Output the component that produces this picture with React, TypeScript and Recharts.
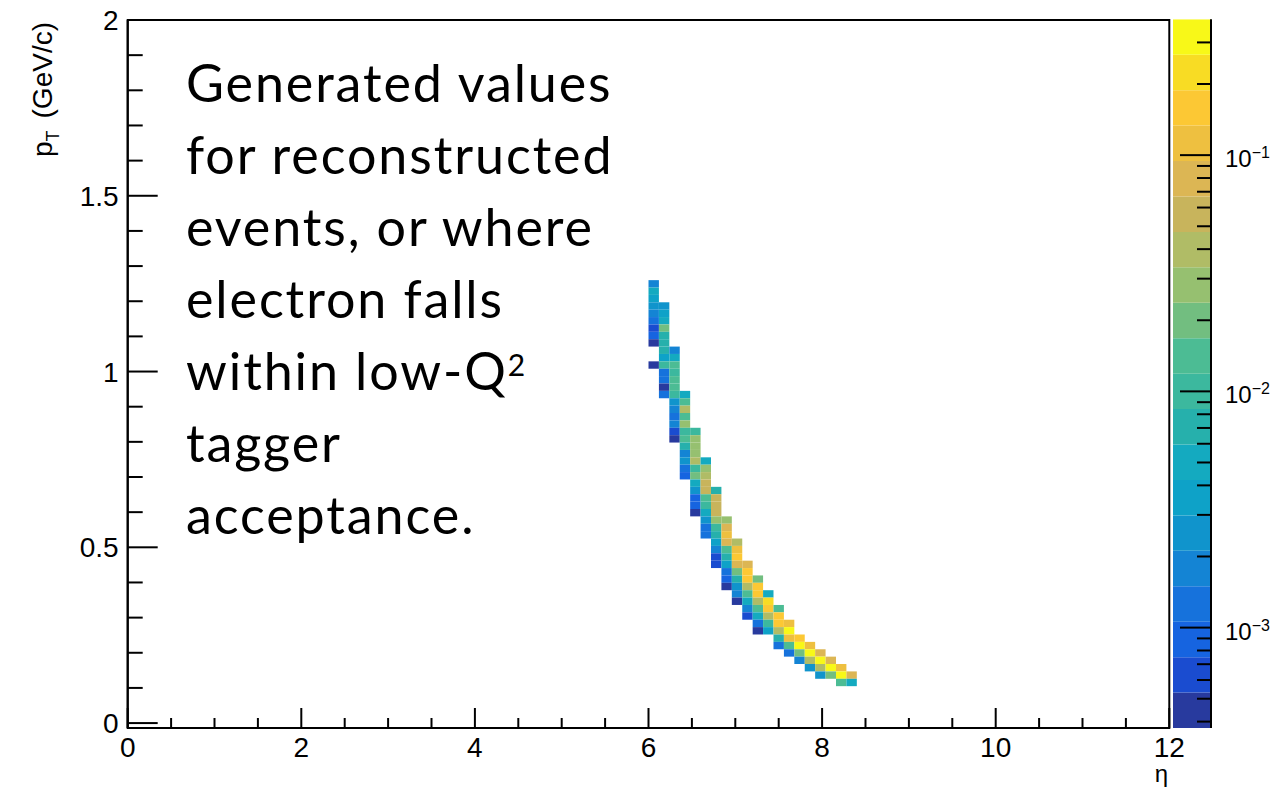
import { ScatterChart, Scatter, XAxis, YAxis, ReferenceArea, BarChart, Bar } from 'recharts'

// histogram binning
const ETA_BIN = 0.12
const PT_BIN = 0.021

// one entry per eta column: low edge, highest filled pT bin, bin contents from top to bottom
const ETA_LOW = [6.0, 6.12, 6.24, 6.36, 6.48, 6.6, 6.72, 6.84, 6.96, 7.08, 7.2, 7.32, 7.44, 7.56, 7.68, 7.8, 7.92, 8.04, 8.16, 8.28]
const PT_TOP_BIN = [59, 56, 50, 44, 39, 35, 31, 27, 24, 21, 19, 17, 15, 13, 11, 10, 9, 8, 7, 6]
const COL_VALUES: (number | null)[][] = [
  [0.0018, 0.0051, 0.0036, 0.0026, 0.0018, 0.0013, 0.00066, 0.00092, 0.00047, null, null, 0.00047],
  [0.0026, 0.0036, 0.0051, 0.02, 0.0071, 0.0071, 0.0071, 0.0036, 0.01, 0.0013, 0.0013, 0.00047, 0.0013],
  [0.0018, 0.0051, 0.014, 0.01, 0.014, 0.014, 0.01, 0.0026, 0.0018, 0.0013, 0.0018, 0.00066, 0.00047],
  [0.0051, 0.014, 0.039, 0.014, 0.028, 0.01, 0.014, 0.0071, 0.0018, 0.0026, 0.0013, 0.00092],
  [0.01, 0.028, 0.028, 0.028, 0.039, 0.01, 0.02, 0.0051, 0.0026, 0.00092, 0.00092, 0.00047],
  [0.0051, 0.028, 0.039, 0.055, 0.055, 0.014, 0.01, 0.0051, 0.0026, 0.0013, 0.0013],
  [0.0071, 0.055, 0.055, 0.055, 0.028, 0.01, 0.0071, 0.0036, 0.0018, 0.00066, 0.00066],
  [0.028, 0.077, 0.11, 0.077, 0.014, 0.0071, 0.0036, 0.0013, 0.00092, 0.00047],
  [0.039, 0.11, 0.15, 0.077, 0.02, 0.0071, 0.0026, 0.0018, 0.00047],
  [0.077, 0.15, 0.15, 0.039, 0.014, 0.0051, 0.0018, 0.00066],
  [0.02, 0.15, 0.15, 0.039, 0.014, 0.0051, 0.0013, 0.00047],
  [0.0051, 0.21, 0.15, 0.039, 0.01, 0.0036],
  [0.014, 0.15, 0.15, 0.039, 0.0071, 0.0013],
  [0.11, 0.3, 0.11, 0.014, 0.0013],
  [0.15, 0.3, 0.02, 0.0018],
  [0.11, 0.3, 0.039, 0.0026],
  [0.077, 0.3, 0.039, 0.0026],
  [0.077, 0.3, 0.02],
  [0.11, 0.3, 0.014],
  [0.077, 0.0051]
]

// z colour scale (log10), 20 contour bands bottom -> top
const Z_MIN_LOG = -3.425
const Z_MAX_LOG = -0.425
const PALETTE = [
  '#283a9e', '#1a4cd0', '#1664e0', '#1672dc', '#1484d4', '#1094cc', '#0ea2c8', '#14aac0', '#26b0ac', '#3cb89e',
  '#4cbc94', '#72be80', '#96c070', '#b0bc66', '#c8b45c', '#dcb654', '#eec040', '#fcc834', '#f8dc24', '#f8f818'
]
const Z_TICKS = [
  0.0004, 0.0005, 0.0006, 0.0007, 0.0008, 0.0009,
  0.001, 0.002, 0.003, 0.004, 0.005, 0.006, 0.007, 0.008, 0.009,
  0.01, 0.02, 0.03, 0.04, 0.05, 0.06, 0.07, 0.08, 0.09,
  0.1, 0.2, 0.3
]

const X_TICKS = [0, 0.5, 1, 1.5, 2, 2.5, 3, 3.5, 4, 4.5, 5, 5.5, 6, 6.5, 7, 7.5, 8, 8.5, 9, 9.5, 10, 10.5, 11, 11.5, 12]
const Y_TICKS = [0, 0.1, 0.2, 0.3, 0.4, 0.5, 0.6, 0.7, 0.8, 0.9, 1, 1.1, 1.2, 1.3, 1.4, 1.5, 1.6, 1.7, 1.8, 1.9, 2]
const Y_MIN = -0.014

const NOTE_LINES = ['Generated values', 'for reconstructed', 'events, or where', 'electron falls', 'within low-Q', 'tagger', 'acceptance.']

const FONT = '"Liberation Sans", Arial, sans-serif'
const Z_STEP = (Z_MAX_LOG - Z_MIN_LOG) / PALETTE.length

function colorOf(v: number) {
  let k = Math.floor((Math.log10(v) - Z_MIN_LOG) / Z_STEP + 1e-9)
  k = Math.max(0, Math.min(PALETTE.length - 1, k))
  return PALETTE[k]
}

const cells = ETA_LOW.flatMap((eta, i) =>
  COL_VALUES[i].flatMap((v, j) =>
    v == null ? [] : [{ eta, pt: (PT_TOP_BIN[i] - j) * PT_BIN, value: v }]
  )
)
const centers = cells.map((c) => ({ x: c.eta + ETA_BIN / 2, y: c.pt + PT_BIN / 2, z: c.value }))

const bandRow: Record<string, number | string> = { name: 'z' }
PALETTE.forEach((_, k) => {
  bandRow[`b${k}`] = Z_STEP
})

const XTick = (props: any) => {
  const { x, y, payload } = props
  const v = payload.value
  const major = Math.abs(v / 2 - Math.round(v / 2)) < 1e-6
  return (
    <g>
      <line x1={x} x2={x} y1={y} y2={y - (major ? 20 : 10)} stroke="#000" strokeWidth={2} />
      {major && (
        <text x={x} y={y + 29} textAnchor="middle" fontSize={28} fontFamily={FONT} fill="#000">
          {v}
        </text>
      )}
    </g>
  )
}

const YTick = (props: any) => {
  const { x, y, payload } = props
  const v = payload.value
  const major = Math.abs(v * 2 - Math.round(v * 2)) < 1e-6
  return (
    <g>
      <line x1={x} x2={x + (major ? 30 : 15)} y1={y} y2={y} stroke="#000" strokeWidth={2} />
      {major && (
        <text x={x - 9} y={y + 10} textAnchor="end" fontSize={28} fontFamily={FONT} fill="#000">
          {v}
        </text>
      )}
    </g>
  )
}

const ZTick = (props: any) => {
  const { x, y, payload } = props
  const lg = payload.value + Z_MIN_LOG
  const major = Math.abs(lg - Math.round(lg)) < 1e-6
  return (
    <g>
      <line x1={x} x2={x - (major ? 31 : 14)} y1={y} y2={y} stroke="#000" strokeWidth={2} />
      {major && (
        <text x={x + 14} y={y + 12} fontSize={24} fontFamily={FONT} fill="#000">
          10
          <tspan fontSize={16} dy={-9}>
            {'\u2212' + String(-Math.round(lg))}
          </tspan>
        </text>
      )}
    </g>
  )
}

const YTitle = () => (
  <text transform="translate(52,22) rotate(-90)" textAnchor="end" fontSize={28} fontFamily={FONT} fill="#000">
    p
    <tspan fontSize={18} dy={7}>
      T
    </tspan>
    <tspan dx={12} dy={-7}>
      (GeV/c)
    </tspan>
  </text>
)

const XTitle = () => (
  <text x={1168} y={782} textAnchor="end" fontSize={24} fontFamily={FONT} fill="#000">
    η
  </text>
)

export default function App() {
  return (
    <div style={{ position: 'absolute', left: 0, top: 0, width: 1288, height: 787, background: '#fff' }}>
      <div style={{ position: 'absolute', left: 0, top: 0 }}>
        <ScatterChart width={1288} height={787} margin={{ top: 20, right: 118.7, bottom: 58, left: 126.7 }}>
          <XAxis
            type="number"
            dataKey="x"
            domain={[0, 12]}
            ticks={X_TICKS}
            interval={0}
            height={1}
            tickSize={0}
            tickMargin={0}
            tickLine={false}
            allowDataOverflow
            axisLine={{ stroke: '#000', strokeWidth: 2 }}
            tick={<XTick />}
            label={<XTitle />}
          />
          <YAxis
            type="number"
            dataKey="y"
            domain={[Y_MIN, 2]}
            ticks={Y_TICKS}
            interval={0}
            width={1}
            tickSize={0}
            tickMargin={0}
            tickLine={false}
            allowDataOverflow
            axisLine={{ stroke: '#000', strokeWidth: 2 }}
            tick={<YTick />}
            label={<YTitle />}
          />
          {cells.map((c, i) => (
            <ReferenceArea
              key={i}
              x1={c.eta}
              x2={c.eta + ETA_BIN}
              y1={c.pt}
              y2={c.pt + PT_BIN}
              fill={colorOf(c.value)}
              fillOpacity={1}
              stroke="none"
            />
          ))}
          <ReferenceArea x1={0} x2={12} y1={Y_MIN} y2={2} fill="none" stroke="#000" strokeWidth={2} />
          <Scatter data={centers} isAnimationActive={false} shape={() => <g />} />
        </ScatterChart>
      </div>
      <div style={{ position: 'absolute', left: 1173, top: 0 }}>
        <BarChart
          width={115}
          height={787}
          data={[bandRow]}
          margin={{ top: 19.3, right: 76, bottom: 59, left: 0 }}
          barCategoryGap={0}
          barGap={0}
        >
          <XAxis dataKey="name" hide />
          <YAxis
            orientation="right"
            type="number"
            domain={[0, Z_MAX_LOG - Z_MIN_LOG]}
            ticks={Z_TICKS.map((t) => Math.log10(t) - Z_MIN_LOG)}
            interval={0}
            width={1}
            tickSize={0}
            tickMargin={0}
            tickLine={false}
            allowDataOverflow
            axisLine={{ stroke: '#000', strokeWidth: 2 }}
            tick={<ZTick />}
          />
          {PALETTE.map((col, k) => (
            <Bar key={k} dataKey={`b${k}`} stackId="z" fill={col} isAnimationActive={false} />
          ))}
        </BarChart>
      </div>
      <svg width={1288} height={787} style={{ position: 'absolute', left: 0, top: 0, pointerEvents: 'none' }}>
        {NOTE_LINES.map((line, i) => (
          <text
            key={i}
            x={186}
            y={102 + i * 72}
            fontSize={52}
            letterSpacing={1.9}
            fontFamily="Lato, sans-serif"
            fill="#000"
          >
            {line}
            {i === 4 && (
              <tspan fontSize={30} dy={-14}>
                2
              </tspan>
            )}
          </text>
        ))}
      </svg>
    </div>
  )
}
